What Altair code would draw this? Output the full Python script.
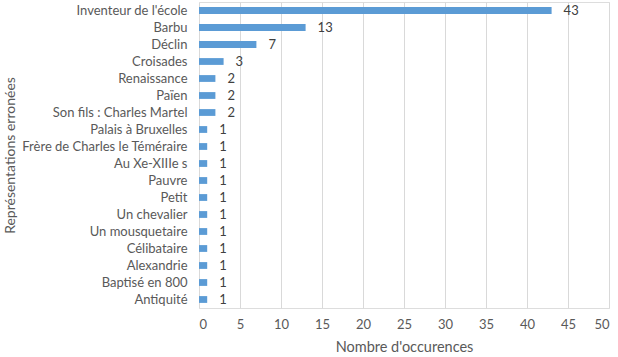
import altair as alt
import pandas as pd

categories = ["Inventeur de l'école", "Barbu", "Déclin", "Croisades", "Renaissance", "Païen",
              "Son fils : Charles Martel", "Palais à Bruxelles", "Frère de Charles le Téméraire",
              "Au Xe-XIIIe s", "Pauvre", "Petit", "Un chevalier", "Un mousquetaire",
              "Célibataire", "Alexandrie", "Baptisé en 800", "Antiquité"]
values = [43, 13, 7, 3, 2, 2, 2, 1, 1, 1, 1, 1, 1, 1, 1, 1, 1, 1]

df = pd.DataFrame({"cat": categories, "val": values})

FONT = "Lato"
TXT = "#595959"

y = alt.Y("cat:N", sort=categories, title="Représentations erronées",
          scale=alt.Scale(paddingInner=0.6, paddingOuter=0.3),
          axis=alt.Axis(labelFont=FONT, labelFontSize=13, labelColor=TXT, labelPadding=12,
                        ticks=False, domain=False, grid=False,
                        titleFont=FONT, titleFontSize=14, titleColor=TXT, titleFontWeight="normal",
                        titleAngle=-90, titleX=-189, titleY=153, titleAlign="center",
                        titleBaseline="middle"))
x = alt.X("val:Q", title="Nombre d'occurences",
          scale=alt.Scale(domain=[0, 50], nice=False),
          axis=alt.Axis(values=list(range(0, 51, 5)), labelFont=FONT, labelFontSize=13,
                        labelColor=TXT, labelPadding=10, ticks=False, domain=False,
                        gridColor="#d9d9d9", titleFont=FONT, titleFontSize=14.5,
                        titleColor=TXT, titleFontWeight="normal", titlePadding=9))

bars = alt.Chart(df).mark_bar(color="#5B9BD5").encode(x=x, y=y)
labels = alt.Chart(df).mark_text(align="left", dx=12, font=FONT, fontSize=13, color="#404040").encode(
    x="val:Q", y=alt.Y("cat:N", sort=categories), text="val:Q")

chart = (bars + labels).properties(
    width=410, height=306,
    autosize=alt.AutoSizeParams(type="none"),
    padding={"left": 199, "top": 2, "right": 9, "bottom": 49},
).configure_view(stroke=None).configure(background="white")

chart.save("out.html", embed_options={"renderer": "svg", "actions": False})
